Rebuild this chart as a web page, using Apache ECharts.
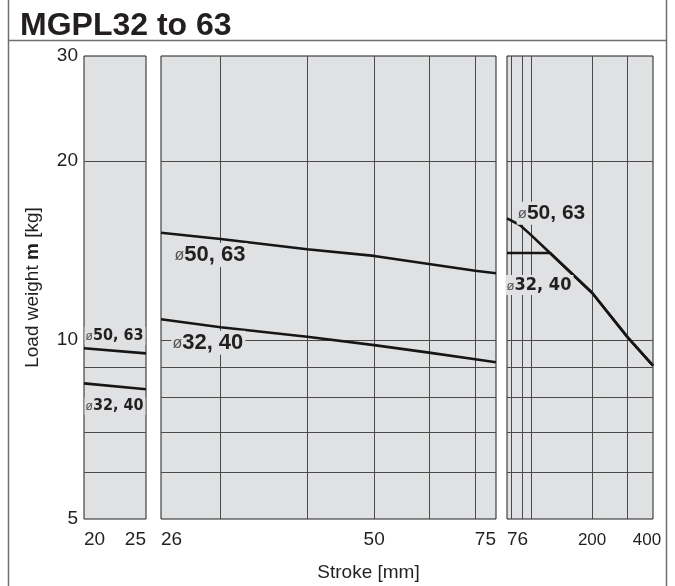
<!DOCTYPE html>
<html><head><meta charset="utf-8">
<script src="https://cdn.jsdelivr.net/npm/echarts@6/dist/echarts.min.js"></script>
<style>html,body{margin:0;padding:0;background:#fff}#c{width:675px;height:586px}</style>
</head><body><div id="c"></div>
<script>
// ---- data ----
const yTickLabels = [5, 10, 20, 30];
const yGridValues = [6, 7, 8, 9, 10, 20];

// Panel 1 (stroke 20-25)
const stroke1 = [20, 25];
const load1_5063 = [9.68, 9.49];
const load1_3240 = [8.45, 8.26];
const xLabels1 = [20, 25];

// Panel 2 (stroke 26-75)
const stroke2 = [24.6, 30, 40, 50, 60, 70, 75];
const load2_5063 = [15.14, 14.78, 14.2, 13.84, 13.41, 13.07, 12.94];
const load2_3240 = [10.83, 10.50, 10.12, 9.80, 9.52, 9.28, 9.17];
const xGrid2 = [30, 40, 50, 60, 70];
const xLabelVals2 = [24.6, 50, 75];
const xLabelText2 = ['26', '50', '75'];

// Panel 3 (stroke 76-400)
const stroke3_5063 = [76, 88, 100, 124, 200, 300, 400];
const load3_5063 = [16.0, 15.6, 15.0, 14.0, 12.0, 10.1, 9.05];
const stroke3_3240 = [76, 124, 200, 300, 400];
const load3_3240 = [14.0, 14.0, 12.0, 10.1, 9.05];
const xGrid3 = [80, 90, 100, 200, 300];
const xLabels3 = [76, 200, 400];

const boreNames = ['50, 63', '32, 40'];
// label anchors (data coords) per panel: [x, y]
const labelAnchors = [
  [[22.5, 10.16], [22.5, 7.74]],
  [[29, 13.89], [28.8, 9.89]],
  [[126.8, 16.32], [110, 12.37]]
];

// ---- styling ----
const BG = '#e0e1e3';
const INK = '#231f20';
const GRIDC = '#4a4a4a';
const FONT = '"Liberation Sans", Arial, sans-serif';
const NARROW = '"Liberation Sans Narrow", "DejaVu Sans Condensed", "Liberation Sans", sans-serif';

const zip = (xs, ys) => xs.map((x, i) => [x, ys[i]]);

function boreLabel(coord, name, size, narrow) {
  return {
    coord: coord,
    symbol: 'circle', symbolSize: 0,
    itemStyle: { color: 'rgba(0,0,0,0)' },
    label: {
      show: true, position: 'inside',
      formatter: '{o|ø}{b|' + name + '}',
      backgroundColor: BG, padding: [1, 2, 1, 1],
      rich: {
        o: { fontSize: Math.round(size * 0.72), fontFamily: FONT, color: '#555', fontWeight: 'normal', padding: [2, 0, 0, 0] },
        b: { fontSize: size, fontFamily: narrow ? NARROW : FONT, fontWeight: 'bold', color: INK }
      }
    }
  };
}

function lineSeries(idx, data, anchor, name, size, narrow) {
  return {
    type: 'line', xAxisIndex: idx, yAxisIndex: idx,
    data: data, showSymbol: false, symbol: 'none',
    lineStyle: { color: '#161616', width: 2.6 },
    z: 5, silent: true,
    markPoint: { silent: true, z: 6, data: [boreLabel(anchor, name, size, narrow)] }
  };
}

const grids = [
  { left: 84, right: 675 - 146, top: 56, bottom: 586 - 519 },
  { left: 161, right: 675 - 496, top: 56, bottom: 586 - 519 },
  { left: 507, right: 675 - 653, top: 56, bottom: 586 - 519 }
].map(g => Object.assign(g, { show: true, backgroundColor: BG, borderColor: '#1e1e1e', borderWidth: 1, outerBoundsMode: 'none' }));

const yAxes = [0, 1, 2].map(i => ({
  type: 'log', logBase: 10, min: 5, max: 30, gridIndex: i,
  axisLine: { show: false },
  axisTick: { show: false, customValues: yGridValues },
  splitLine: { show: true, lineStyle: { color: GRIDC, width: 1 } },
  axisLabel: { show: i === 0, customValues: yTickLabels, fontSize: 19, color: INK, fontFamily: FONT, margin: 6 },
  name: i === 0 ? 'Load weight {m|m} [kg]' : '',
  nameLocation: 'middle', nameGap: 42, nameRotate: 90,
  nameTextStyle: { fontSize: 19, color: INK, fontFamily: FONT, rich: { m: { fontSize: 19, fontWeight: 'bold', color: INK, fontFamily: FONT } } }
}));

const xLabelStyle = { fontSize: 19, color: INK, fontFamily: FONT, margin: 11, alignMinLabel: 'left', alignMaxLabel: 'right' };

const xAxes = [
  {
    type: 'value', gridIndex: 0, min: 20, max: 25,
    axisLine: { show: false }, axisTick: { show: false }, splitLine: { show: false },
    axisLabel: Object.assign({ customValues: xLabels1 }, xLabelStyle)
  },
  {
    type: 'log', logBase: 10, gridIndex: 1, min: 24.6, max: 75,
    axisLine: { show: false },
    axisTick: { show: false, customValues: xGrid2 },
    splitLine: { show: true, lineStyle: { color: GRIDC, width: 1 } },
    axisLabel: Object.assign({
      customValues: xLabelVals2,
      formatter: v => { const k = xLabelVals2.findIndex(t => Math.abs(t - v) < 0.05); return k >= 0 ? xLabelText2[k] : ''; }
    }, xLabelStyle)
  },
  {
    type: 'log', logBase: 10, gridIndex: 2, min: 76, max: 400,
    axisLine: { show: false },
    axisTick: { show: false, customValues: xGrid3 },
    splitLine: { show: true, lineStyle: { color: GRIDC, width: 1 } },
    axisLabel: Object.assign({}, xLabelStyle, {
      customValues: xLabels3,
      alignMaxLabel: 'center',
      formatter: v => { const r = Math.round(v); return r === 76 ? '{a|76}' : (r === 400 ? '{e|400}' : '{s|' + r + '}'); },
      rich: {
        a: { fontSize: 19, fontFamily: FONT, color: INK },
        s: { fontSize: 17, fontFamily: FONT, color: INK, padding: [2, 0, 0, 0] },
        e: { fontSize: 17, fontFamily: FONT, color: INK, padding: [2, 12, 0, 0] }
      }
    })
  }
];

const series = [
  lineSeries(0, zip(stroke1, load1_5063), labelAnchors[0][0], boreNames[0], 16, true),
  lineSeries(0, zip(stroke1, load1_3240), labelAnchors[0][1], boreNames[1], 16, true),
  lineSeries(1, zip(stroke2, load2_5063), labelAnchors[1][0], boreNames[0], 22, false),
  lineSeries(1, zip(stroke2, load2_3240), labelAnchors[1][1], boreNames[1], 22, false),
  lineSeries(2, zip(stroke3_5063, load3_5063), labelAnchors[2][0], boreNames[0], 21, false),
  lineSeries(2, zip(stroke3_3240, load3_3240), labelAnchors[2][1], boreNames[1], 18, true)
];

const chart = echarts.init(document.getElementById('c'), null, { renderer: 'canvas' });
chart.setOption({
  animation: false,
  backgroundColor: '#ffffff',
  title: { text: 'MGPL32 to 63', left: 15, top: 5, textStyle: { fontSize: 32, fontWeight: 'bold', color: INK, fontFamily: FONT } },
  grid: grids,
  xAxis: xAxes,
  yAxis: yAxes,
  series: series,
  graphic: [
    { type: 'line', silent: true, shape: { x1: 8.5, y1: 0, x2: 8.5, y2: 586 }, style: { stroke: '#707070', lineWidth: 1.5 } },
    { type: 'line', silent: true, shape: { x1: 666.5, y1: 0, x2: 666.5, y2: 586 }, style: { stroke: '#707070', lineWidth: 1.5 } },
    { type: 'line', silent: true, shape: { x1: 8, y1: 40.5, x2: 667, y2: 40.5 }, style: { stroke: '#707070', lineWidth: 1.5 } },
    { type: 'text', silent: true, x: 368.5, y: 573, style: { text: 'Stroke [mm]', fontSize: 19, fill: INK, fontFamily: FONT, align: 'center', verticalAlign: 'middle' } }
  ]
});
</script>
</body></html>
